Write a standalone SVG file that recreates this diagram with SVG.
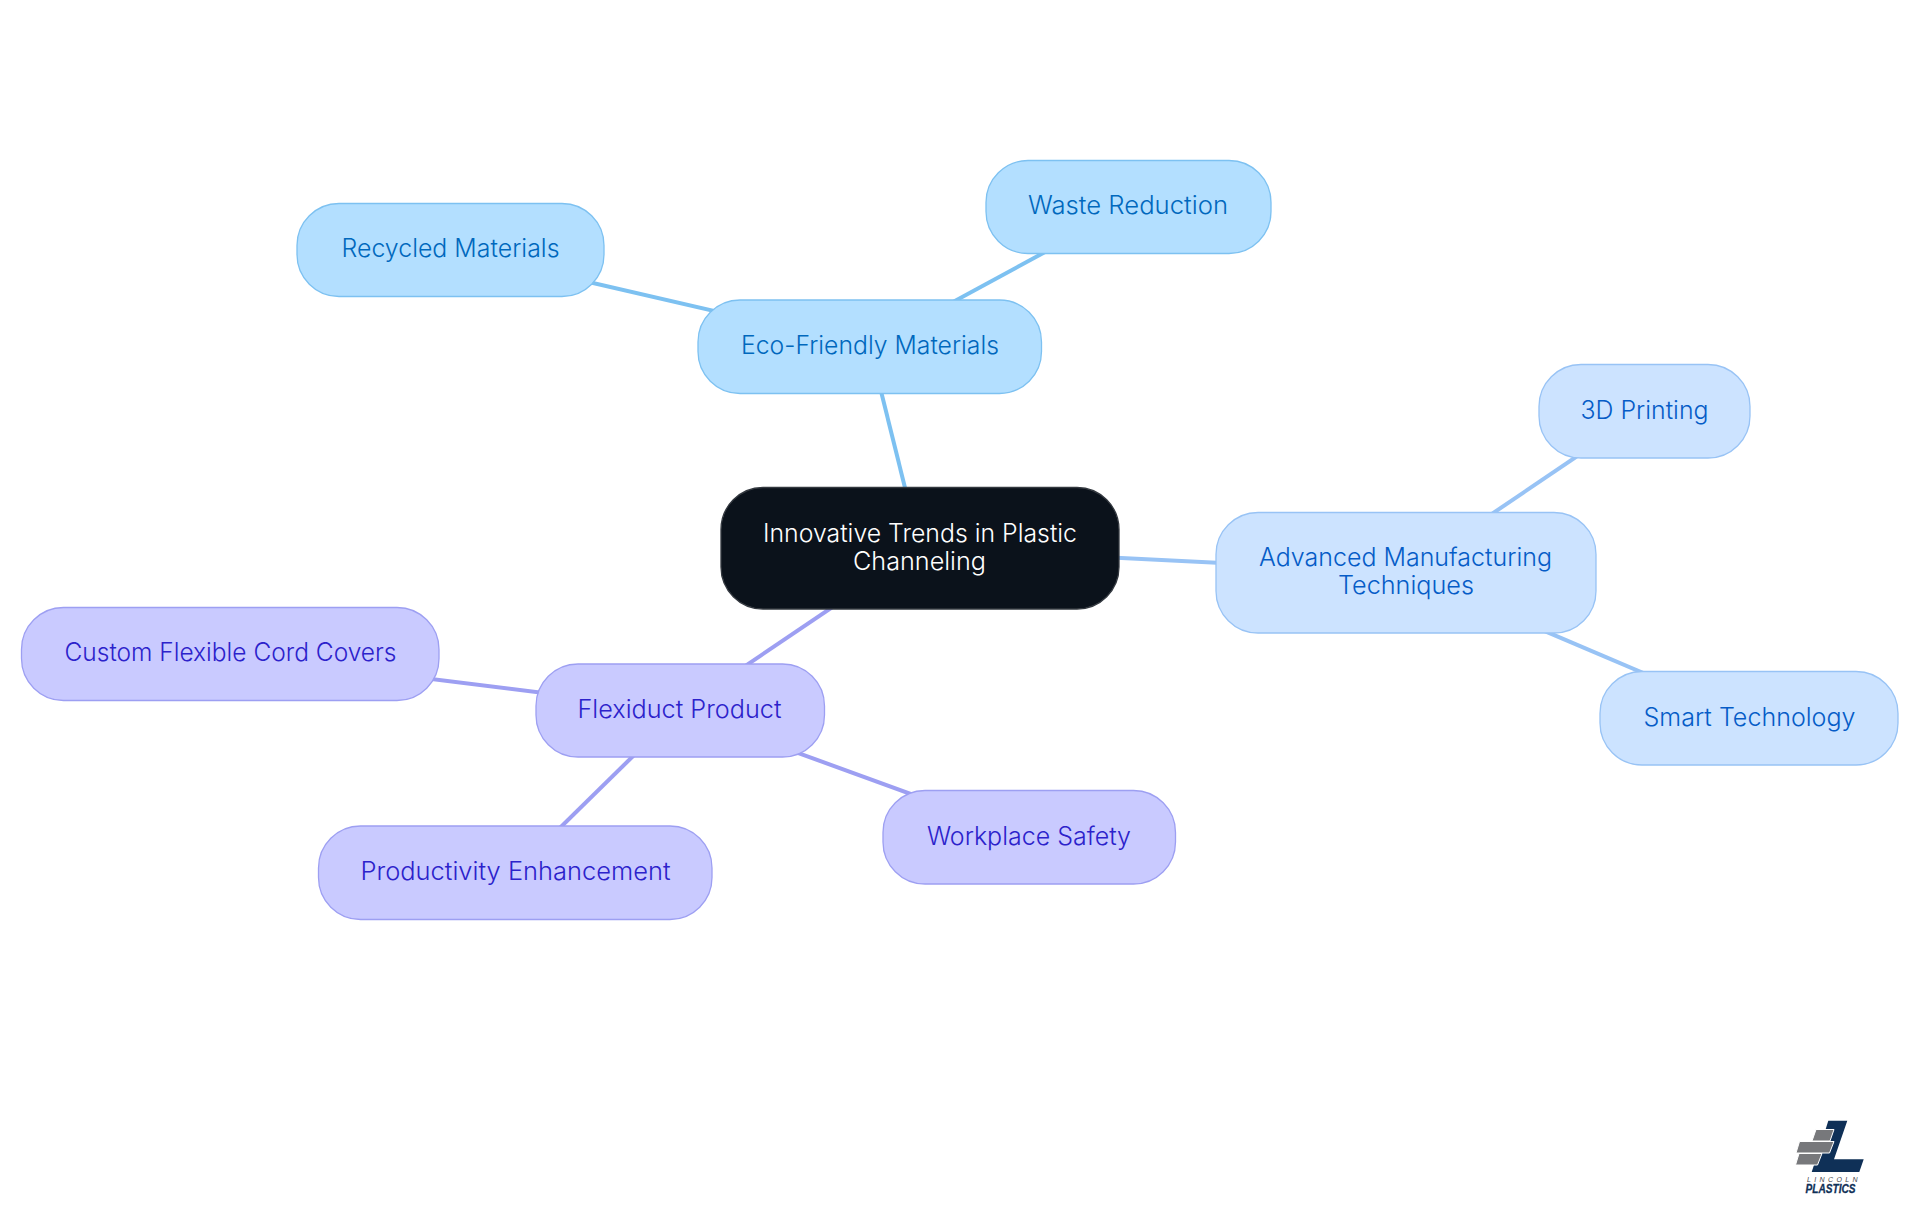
<svg xmlns="http://www.w3.org/2000/svg" width="1920" height="1215" viewBox="0 0 1920 1215">
<style>
text{font-family:"Inter","Noto Sans",sans-serif;font-size:25px;text-anchor:middle;font-weight:350}
.n rect{stroke-width:1.3}
.e rect{fill:#b3dfff;stroke:#7dc1f1}.e text{fill:#0068bd}
.a rect{fill:#cce3ff;stroke:#98c3f5}.a text{fill:#055cc7}
.f rect{fill:#c9caff;stroke:#9d9ff2}.f text{fill:#2c22cb}
.c line{stroke-width:4;fill:none}
.ce{stroke:#7dc1f1}.ca{stroke:#98c3f5}.cf{stroke:#9d9ff2}
</style>
<rect width="1920" height="1215" fill="#fff"/>
<g id="connectors" class="c">
<line class="ce" x1="920" y1="548" x2="870" y2="347"/>
<line class="ce" x1="870" y1="347" x2="1128" y2="207"/>
<line class="ce" x1="870" y1="347" x2="450" y2="250"/>
<line class="ca" x1="920" y1="548" x2="1406" y2="572"/>
<line class="ca" x1="1406" y1="572" x2="1644" y2="411"/>
<line class="ca" x1="1406" y1="572" x2="1749" y2="718"/>
<line class="cf" x1="920" y1="548" x2="680" y2="710"/>
<line class="cf" x1="680" y1="710" x2="230" y2="654"/>
<line class="cf" x1="680" y1="710" x2="515" y2="872"/>
<line class="cf" x1="680" y1="710" x2="1029" y2="837"/>
</g>
<g id="root" class="n"><rect x="721" y="487.5" width="398" height="121.5" rx="42" fill="#0b121b" stroke="#33383f"/>
<text x="920" y="541.5" fill="#fff" textLength="314" lengthAdjust="spacingAndGlyphs">Innovative Trends in Plastic</text>
<text x="919.5" y="569.5" fill="#fff" textLength="133" lengthAdjust="spacingAndGlyphs">Channeling</text></g>
<g id="eco" class="n e"><rect x="698" y="300" width="343.5" height="93.5" rx="42"/><text x="870" y="354" textLength="258" lengthAdjust="spacingAndGlyphs">Eco-Friendly Materials</text></g>
<g id="waste" class="n e"><rect x="986" y="160.5" width="285" height="93" rx="42"/><text x="1128" y="213.5" textLength="200" lengthAdjust="spacingAndGlyphs">Waste Reduction</text></g>
<g id="recycled" class="n e"><rect x="297" y="203.5" width="307" height="93" rx="42"/><text x="450.5" y="256.5" textLength="218" lengthAdjust="spacingAndGlyphs">Recycled Materials</text></g>
<g id="advanced" class="n a"><rect x="1216" y="512.5" width="380" height="120.5" rx="42"/>
<text x="1405.5" y="566" textLength="293" lengthAdjust="spacingAndGlyphs">Advanced Manufacturing</text>
<text x="1406" y="594" textLength="136" lengthAdjust="spacingAndGlyphs">Techniques</text></g>
<g id="printing" class="n a"><rect x="1539" y="364.5" width="211" height="93.5" rx="42"/><text x="1644.5" y="418.5" textLength="128" lengthAdjust="spacingAndGlyphs">3D Printing</text></g>
<g id="smart" class="n a"><rect x="1600" y="671.5" width="298" height="93.5" rx="42"/><text x="1749.5" y="725.5" textLength="212" lengthAdjust="spacingAndGlyphs">Smart Technology</text></g>
<g id="flexiduct" class="n f"><rect x="536" y="664" width="288.5" height="93" rx="42"/><text x="679.5" y="718" textLength="204" lengthAdjust="spacingAndGlyphs">Flexiduct Product</text></g>
<g id="custom" class="n f"><rect x="21.5" y="607.5" width="417.5" height="93" rx="42"/><text x="230.5" y="661" textLength="332" lengthAdjust="spacingAndGlyphs">Custom Flexible Cord Covers</text></g>
<g id="productivity" class="n f"><rect x="318.5" y="826" width="393.5" height="93.5" rx="42"/><text x="515.5" y="880" textLength="310" lengthAdjust="spacingAndGlyphs">Productivity Enhancement</text></g>
<g id="safety" class="n f"><rect x="883" y="790.5" width="292.5" height="93.5" rx="42"/><text x="1029" y="844.5" textLength="204" lengthAdjust="spacingAndGlyphs">Workplace Safety</text></g>
<g id="logo">
<polygon points="1828.3,1120.7 1847.3,1120.7 1834,1159.3 1863.7,1159.3 1859.3,1172 1811.7,1172 1823.3,1136.7" fill="#0f3057"/>
<g fill="#77787b" stroke="#fff" stroke-width="1">
<polygon points="1816,1129.5 1834,1129.5 1830,1141 1812,1141"/>
<polygon points="1799.5,1141.5 1834,1141.5 1829.5,1153 1796,1153"/>
<polygon points="1799,1153.5 1822,1153.5 1817.5,1165 1795.5,1165"/>
</g>
<text x="1834" y="1181.5" style="font-size:7px;letter-spacing:3.4px;font-weight:400;font-family:'Liberation Sans',sans-serif;font-style:italic" fill="#3f4448">LINCOLN</text>
<text x="1830.5" y="1193" style="font-size:13px;font-weight:700;font-style:italic;font-family:'Liberation Sans',sans-serif" fill="#0f3057" stroke="#0f3057" stroke-width=".3" textLength="50" lengthAdjust="spacingAndGlyphs">PLASTICS</text>
</g>
</svg>
